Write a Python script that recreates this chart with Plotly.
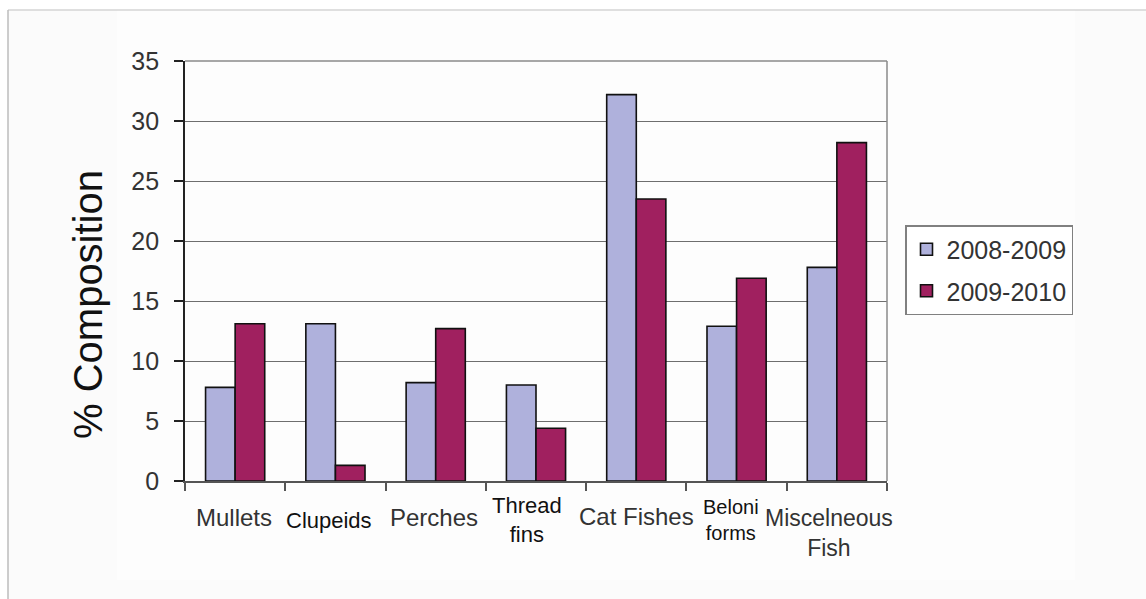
import plotly.graph_objects as go

# Fish group composition (%) by season
categories = ["Mullets", "Clupeids", "Perches", "Thread fins", "Cat Fishes",
              "Beloni forms", "Miscelneous Fish"]
season_labels = ["2008-2009", "2009-2010"]
comp_2008_2009 = [7.8, 13.1, 8.2, 8.0, 32.2, 12.9, 17.8]
comp_2009_2010 = [13.1, 1.3, 12.7, 4.4, 23.5, 16.9, 28.2]
y_ticks = [0, 5, 10, 15, 20, 25, 30, 35]

# category label text as drawn below the axis (line breaks, size, placement in px)
label_text = ["Mullets", "Clupeids", "Perches", "Thread<br>fins", "Cat Fishes",
              "Beloni<br>forms", "Miscelneous<br>Fish"]
label_size = [24, 22, 24, 22, 24, 20, 23]
label_center_px = [517, 520, 517, 520, 516, 520, 533]
label_xshift = [-1, -6, -2, -9, 0, -6, -8]
label_color = ["#333333", "#111111", "#333333", "#111111", "#333333", "#111111", "#333333"]

W, H = 1146, 599
L, R, T, B = 185, 887, 61, 481


def px_x(p):
    return (p - L) / (R - L)


def px_y(p):
    return (B - p) / (B - T)


FONT = "Liberation Sans, Arial, sans-serif"

fig = go.Figure()
fig.add_trace(go.Bar(
    x=categories, y=comp_2008_2009, name=season_labels[0], legendgroup="a",
    marker=dict(color="#AFB1DC", line=dict(color="#111111", width=1.6)),
))
fig.add_trace(go.Bar(
    x=categories, y=comp_2009_2010, name=season_labels[1], legendgroup="b",
    marker=dict(color="#A0205F", line=dict(color="#111111", width=1.6)),
))

shapes = [
    # slide background and frame
    dict(type="rect", xref="paper", yref="paper", layer="below",
         x0=px_x(8), x1=px_x(W + 5), y0=px_y(10), y1=px_y(H + 5),
         fillcolor="#FBFBFB", line=dict(width=0)),
    dict(type="rect", xref="paper", yref="paper", layer="below",
         x0=px_x(117), x1=px_x(1075), y0=px_y(10), y1=px_y(580),
         fillcolor="#FDFDFD", line=dict(width=0)),
    dict(type="line", xref="paper", yref="paper", layer="below",
         x0=px_x(8), x1=px_x(W + 5), y0=px_y(10), y1=px_y(10),
         line=dict(color="#D4D4D4", width=1.5)),
    dict(type="line", xref="paper", yref="paper", layer="below",
         x0=px_x(8), x1=px_x(8), y0=px_y(10), y1=px_y(H + 5),
         line=dict(color="#BDBDBD", width=1.5)),
    # top and right plot-area borders
    dict(type="line", xref="paper", yref="paper", x0=0, x1=1, y0=1, y1=1,
         line=dict(color="#8A8A8A", width=1.5)),
    dict(type="line", xref="paper", yref="paper", x0=1, x1=1, y0=0, y1=1,
         line=dict(color="#8A8A8A", width=1.5)),
]

annotations = [
    dict(text="% Composition", textangle=-90, xref="paper", yref="paper",
         x=px_x(88), y=px_y(305), xanchor="center", yanchor="middle",
         showarrow=False, font=dict(family=FONT, size=40, color="#111111")),
]
for cat, txt, sz, cy, dx, col in zip(categories, label_text, label_size,
                                     label_center_px, label_xshift, label_color):
    annotations.append(dict(
        text=txt, x=cat, xref="x", yref="paper", y=px_y(cy), xshift=dx,
        xanchor="center", yanchor="middle", showarrow=False,
        font=dict(family=FONT, size=sz, color=col),
    ))

fig.update_layout(
    width=W, height=H,
    margin=dict(l=L, r=W - R, t=T, b=H - B),
    paper_bgcolor="#FFFFFF",
    plot_bgcolor="#D6D4D6",
    barmode="group",
    bargap=0.41,
    bargroupgap=0,
    font=dict(family=FONT, color="#333333"),
    showlegend=True,
    legend=dict(
        x=px_x(905), y=px_y(270), xanchor="left", yanchor="middle",
        bgcolor="#FFFFFF", bordercolor="#808080", borderwidth=1.5,
        font=dict(family=FONT, size=25, color="#333333"),
        traceorder="grouped", tracegroupgap=6,
    ),
    xaxis=dict(
        range=[-0.5, len(categories) - 0.5], autorange=False,
        showticklabels=False, ticks="outside", tickson="boundaries",
        ticklen=8, tickcolor="#555555", tickwidth=1.5,
        showline=True, linecolor="#555555", linewidth=1.5,
        showgrid=False, zeroline=False,
    ),
    yaxis=dict(
        range=[0, 35], tickvals=y_ticks, ticks="outside", ticklen=9,
        tickcolor="#222222", tickwidth=1.5,
        tickfont=dict(family=FONT, size=25, color="#333333"),
        ticklabelstandoff=10,
        showline=True, linecolor="#222222", linewidth=1.8,
        showgrid=True, gridcolor="#6E6E6E", gridwidth=1.3,
        zeroline=False,
    ),
    shapes=shapes,
    annotations=annotations,
)

fig.write_html("out.html")
